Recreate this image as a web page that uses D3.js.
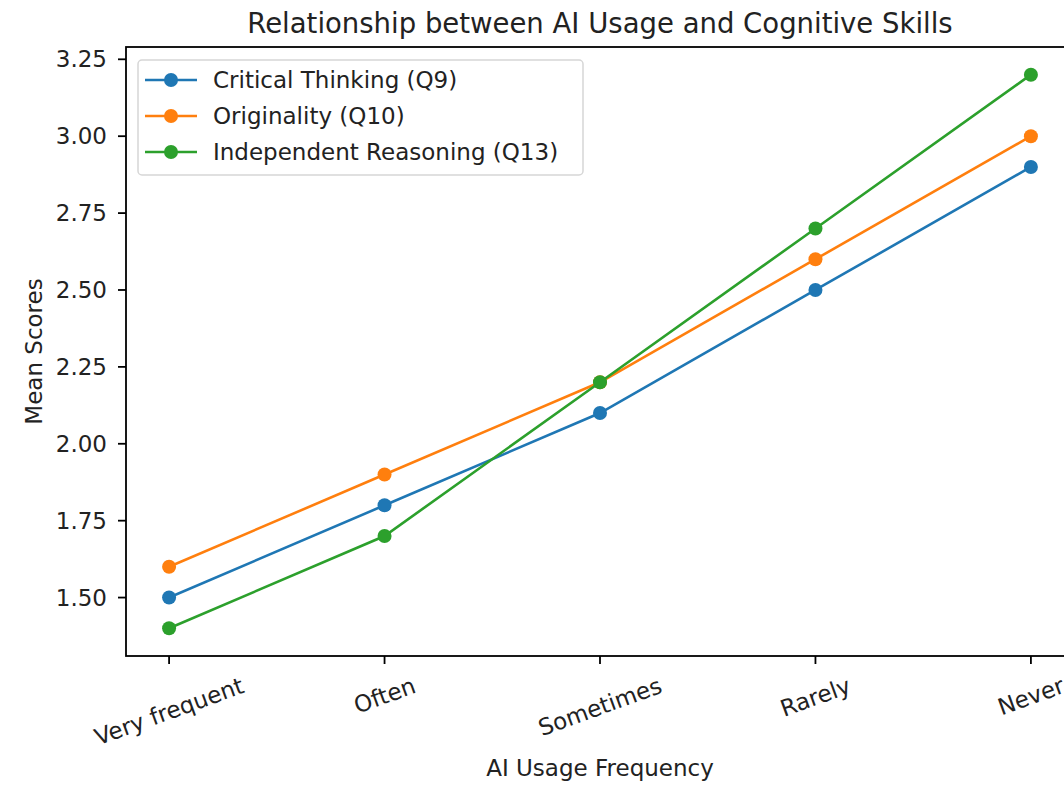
<!DOCTYPE html>
<html>
<head>
<meta charset="utf-8">
<script src="https://cdn.jsdelivr.net/npm/d3@7"></script>
<style>
  body { margin: 0; background: #fff; }
  svg { display: block; font-family: "DejaVu Sans", sans-serif; }
</style>
</head>
<body>
<div id="chart"></div>
<script>
// data
const categories = ["Very frequent", "Often", "Sometimes", "Rarely", "Never"];
const seriesNames = ["Critical Thinking (Q9)", "Originality (Q10)", "Independent Reasoning (Q13)"];
const criticalThinking = [1.5, 1.8, 2.1, 2.5, 2.9];
const originality = [1.6, 1.9, 2.2, 2.6, 3.0];
const independentReasoning = [1.4, 1.7, 2.2, 2.7, 3.2];
const yTicks = [1.5, 1.75, 2.0, 2.25, 2.5, 2.75, 3.0, 3.25];

const colors = ["#1f77b4", "#ff7f0e", "#2ca02c"];
const series = [criticalThinking, originality, independentReasoning].map((vals, i) => ({
  name: seriesNames[i], color: colors[i], values: vals
}));

const W = 1064, H = 786;
const box = { left: 126, right: 1074, top: 47, bottom: 656 };
const fs = 23; // tick / label font size
const tickLen = 8, pad = 8;

const svg = d3.select("#chart").append("svg")
  .attr("width", W).attr("height", H)
  .style("overflow", "hidden");

// matplotlib style 5% margins
let allVals = series.flatMap(s => s.values);
let ymin = d3.min(allVals), ymax = d3.max(allVals), yr = ymax - ymin;
const y = d3.scaleLinear().domain([ymin - yr * 0.05, ymax + yr * 0.05]).range([box.bottom, box.top]);
let xm = (box.right - box.left) / 1.1 * 0.05;
const x = d3.scalePoint().domain(categories).range([box.left + xm, box.right - xm]);

// y axis
let gy = svg.append("g");
yTicks.forEach(t => {
  gy.append("line")
    .attr("x1", box.left - tickLen).attr("x2", box.left)
    .attr("y1", y(t)).attr("y2", y(t))
    .attr("stroke", "#000").attr("stroke-width", 1.8);
  gy.append("text")
    .attr("x", box.left - tickLen - pad - 3).attr("y", y(t))
    .attr("text-anchor", "end").attr("dominant-baseline", "central")
    .attr("font-size", fs).attr("fill", "#222")
    .text(t.toFixed(2));
});

// x axis ticks + rotated labels
let gx = svg.append("g");
categories.forEach(c => {
  let cx = x(c);
  gx.append("line")
    .attr("x1", cx).attr("x2", cx)
    .attr("y1", box.bottom).attr("y2", box.bottom + tickLen)
    .attr("stroke", "#000").attr("stroke-width", 1.8);
  let t = gx.append("text")
    .attr("text-anchor", "middle").attr("dominant-baseline", "central")
    .attr("font-size", fs).attr("fill", "#222")
    .text(c);
  let w = t.node().getComputedTextLength();
  let a = 20 * Math.PI / 180;
  let bh = w * Math.sin(a) + fs * 1.16 * Math.cos(a);
  let cy = box.bottom + tickLen + pad + bh / 2;
  t.attr("transform", "translate(" + cx + "," + cy + ") rotate(-20)");
});

// lines + markers
const line = d3.line().x((d, i) => x(categories[i])).y(d => y(d));
series.forEach(s => {
  let g = svg.append("g");
  g.append("path")
    .attr("d", line(s.values))
    .attr("fill", "none").attr("stroke", s.color).attr("stroke-width", 2.6);
  g.selectAll("circle").data(s.values).enter()
    .append("circle")
    .attr("cx", (d, i) => x(categories[i])).attr("cy", d => y(d))
    .attr("r", 7).attr("fill", s.color);
});

// spines
svg.append("rect")
  .attr("x", box.left).attr("y", box.top)
  .attr("width", box.right - box.left).attr("height", box.bottom - box.top)
  .attr("fill", "none").attr("stroke", "#000").attr("stroke-width", 1.8);

// legend
let lg = svg.append("g");
lg.append("rect")
  .attr("x", 138).attr("y", 60).attr("width", 445).attr("height", 115)
  .attr("rx", 4).attr("fill", "#fff").attr("fill-opacity", 0.8)
  .attr("stroke", "#d6d6d6").attr("stroke-width", 1.5);
series.forEach((s, i) => {
  let ly = 80 + i * 36;
  lg.append("line")
    .attr("x1", 145).attr("x2", 197).attr("y1", ly).attr("y2", ly)
    .attr("stroke", s.color).attr("stroke-width", 2.6);
  lg.append("circle").attr("cx", 171).attr("cy", ly).attr("r", 7).attr("fill", s.color);
  lg.append("text")
    .attr("x", 213).attr("y", ly).attr("dominant-baseline", "central")
    .attr("font-size", fs).attr("fill", "#222")
    .text(s.name);
});

// title and axis labels
svg.append("text")
  .attr("x", (box.left + box.right) / 2).attr("y", 33)
  .attr("text-anchor", "middle").attr("font-size", 27.5).attr("fill", "#222")
  .text("Relationship between AI Usage and Cognitive Skills");

svg.append("text")
  .attr("x", (box.left + box.right) / 2).attr("y", 776)
  .attr("text-anchor", "middle").attr("font-size", fs).attr("fill", "#222")
  .text("AI Usage Frequency");

svg.append("text")
  .attr("transform", "translate(42," + ((box.top + box.bottom) / 2) + ") rotate(-90)")
  .attr("text-anchor", "middle").attr("font-size", fs).attr("fill", "#222")
  .text("Mean Scores");
</script>
</body>
</html>
